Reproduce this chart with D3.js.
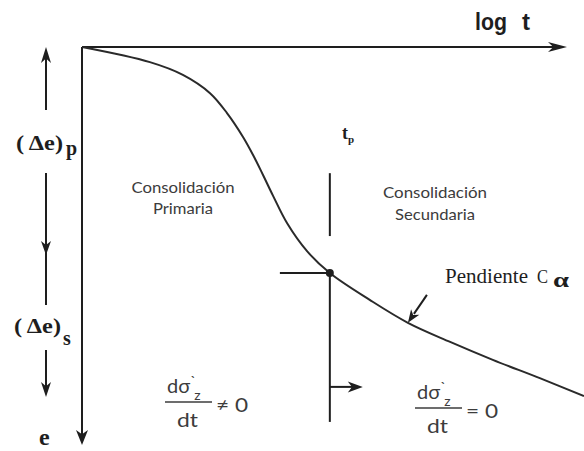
<!DOCTYPE html>
<html>
<head>
<meta charset="utf-8">
<script src="https://cdn.jsdelivr.net/npm/d3@7"></script>
<style>
  html, body { margin: 0; padding: 0; background: #fff; }
  svg { display: block; }
</style>
</head>
<body>
<svg id="chart" width="584" height="451"></svg>
<script>
// Consolidation curve, void ratio e against log t (normalised units 0-100)
const logT = [0, 14.0, 20.8, 26.4, 29.9, 33.2, 35.3, 37.3, 39.4, 42.3, 46.4, 51.1, 59.4, 67.2, 75.9, 84.7, 94.4, 103.5];
const voidRatio = [0, 3.8, 7.0, 11.6, 16.6, 22.6, 27.2, 32.1, 37.4, 44.3, 51.3, 56.8, 63.6, 69.3, 74.1, 78.6, 83.2, 87.7];

// end of primary consolidation
const tPrimary = 51.1;
const ePrimary = 56.8;
// point where the secondary slope C_alpha is marked
const tSlope = 67.2;

// axis extents
const xAxisEnd = 100;
const yAxisEnd = 100;

const svg = d3.select("#chart");
const x = d3.scaleLinear().domain([0, 100]).range([82, 567]);
const y = d3.scaleLinear().domain([0, 100]).range([47, 445]);

const ink = "#1e1e1e";

// notched arrowhead with its tip at (tx, ty) pointing along angle (degrees)
function arrowHead(tx, ty, angle, len, half) {
  const p = `M0,0 L${-len},${-half} L${-len * 0.72},0 L${-len},${half} Z`;
  svg.append("path")
    .attr("d", p)
    .attr("transform", `translate(${tx},${ty}) rotate(${angle})`)
    .attr("fill", ink);
}

function line(x1, y1, x2, y2, w) {
  svg.append("line")
    .attr("x1", x1).attr("y1", y1).attr("x2", x2).attr("y2", y2)
    .attr("stroke", ink).attr("stroke-width", w || 2);
}

// axes
line(x(0), y(0), x(xAxisEnd) - 6, y(0), 2);
arrowHead(x(xAxisEnd), y(0), 0, 19, 5);
line(x(0), y(0), x(0), y(yAxisEnd) - 6, 2);
arrowHead(x(0), y(yAxisEnd), 90, 15, 6);

// consolidation curve
const pts = logT.map((t, i) => [t, voidRatio[i]]);
svg.append("path")
  .datum(pts)
  .attr("fill", "none")
  .attr("stroke", "#2a2a2a")
  .attr("stroke-width", 2)
  .attr("d", d3.line().x(d => x(d[0])).y(d => y(d[1])).curve(d3.curveCatmullRom.alpha(0.5)));

// t_p markers
line(x(tPrimary), y(31.7), x(tPrimary), y(47.5), 2);
line(x(tPrimary), y(ePrimary), x(tPrimary), y(94.2), 2);
line(x(40.8), y(ePrimary), x(tPrimary), y(ePrimary), 2);
svg.append("circle")
  .attr("cx", x(tPrimary)).attr("cy", y(ePrimary)).attr("r", 4)
  .attr("fill", ink);

// short arrow to the right of t_p
line(x(tPrimary), y(85.4), x(57.9) - 6, y(85.4), 2);
arrowHead(x(57.9), y(85.4), 0, 15, 5.5);

// slope pointer
const slopeIdx = logT.indexOf(tSlope);
const sx = x(tSlope), sy = y(voidRatio[slopeIdx]);
line(sx + 19, sy - 28, sx + 6, sy - 9, 2);
arrowHead(sx, sy, Math.atan2(28, -19) * 180 / Math.PI, 13, 5);

// left-hand markers for (Δe)p and (Δe)s
line(46, 110, 46, 55, 2);
arrowHead(46, 47, -90, 16, 5);
line(46, 173, 46, 305, 2);
arrowHead(46, 255, 90, 14, 5);
line(46, 350, 46, 390, 2);
arrowHead(46, 397, 90, 15, 5);

// text
const serif = "'Liberation Serif', 'Times New Roman', serif";
const sans = "'Liberation Sans', Arial, sans-serif";
const humanist = "Lato, 'Open Sans', sans-serif";

function txt(str, tx, ty, opt) {
  const t = svg.append("text")
    .attr("x", tx).attr("y", ty)
    .attr("font-family", opt.family)
    .attr("font-size", opt.size)
    .attr("font-weight", opt.weight || "normal")
    .attr("fill", opt.fill || ink)
    .attr("text-anchor", opt.anchor || "start")
    .text(str);
  if (opt.len) t.attr("textLength", opt.len).attr("lengthAdjust", "spacingAndGlyphs");
  return t;
}

txt("log", 475, 30, {family: sans, size: 24, weight: "bold", len: 32});
txt("t", 522, 30, {family: sans, size: 24, weight: "bold", len: 8});

txt("( Δe)", 16, 150, {family: serif, size: 22, weight: "bold", len: 47});
txt("p", 66, 155, {family: serif, size: 20, weight: "bold"});
txt("( Δe)", 14, 333, {family: serif, size: 22, weight: "bold", len: 47});
txt("s", 63, 345, {family: serif, size: 20, weight: "bold"});
txt("e", 39, 445, {family: serif, size: 24, weight: "bold"});

// t_p label
const tpLabel = svg.append("text")
  .attr("x", 342).attr("y", 139)
  .attr("font-family", serif).attr("font-size", 18).attr("font-weight", "bold")
  .attr("fill", ink);
tpLabel.append("tspan").text("t");
tpLabel.append("tspan").attr("dy", 4).attr("font-size", 11).text("p");

const grey = "#3c3c3c";
txt("Consolidación", 183, 193, {family: humanist, size: 15, anchor: "middle", fill: grey, len: 103});
txt("Primaria", 183, 214, {family: humanist, size: 15, anchor: "middle", fill: grey, len: 60});
txt("Consolidación", 435, 198, {family: humanist, size: 15, anchor: "middle", fill: grey, len: 104});
txt("Secundaria", 435, 220, {family: humanist, size: 15, anchor: "middle", fill: grey, len: 80});

txt("Pendiente", 445, 283, {family: serif, size: 21, len: 83});
txt("C", 537, 283, {family: serif, size: 19, len: 11});
txt("α", 553, 287, {family: serif, size: 20, weight: "bold", len: 16});

// d sigma'_z / dt fractions
function fraction(fx, fy, rel) {
  const num = svg.append("text")
    .attr("x", fx).attr("y", fy)
    .attr("font-family", humanist).attr("font-size", 20)
    .attr("fill", grey);
  num.append("tspan").text("dσ");
  num.append("tspan").attr("dy", -6).attr("font-size", 15).text("`");
  num.append("tspan").attr("dx", -2).attr("dy", 13).attr("font-size", 14).text("z");
  svg.append("line")
    .attr("x1", fx - 2).attr("x2", fx + 45)
    .attr("y1", fy + 9).attr("y2", fy + 9)
    .attr("stroke", grey).attr("stroke-width", 1.5);
  txt("dt", fx + 10, fy + 34, {family: humanist, size: 19, fill: grey, len: 21});
  txt(rel, fx + 49, fy + 19, {family: humanist, size: 19, fill: grey, len: 32});
}
fraction(167, 393, "≠ 0");
fraction(417, 399, "= 0");
</script>
</body>
</html>
